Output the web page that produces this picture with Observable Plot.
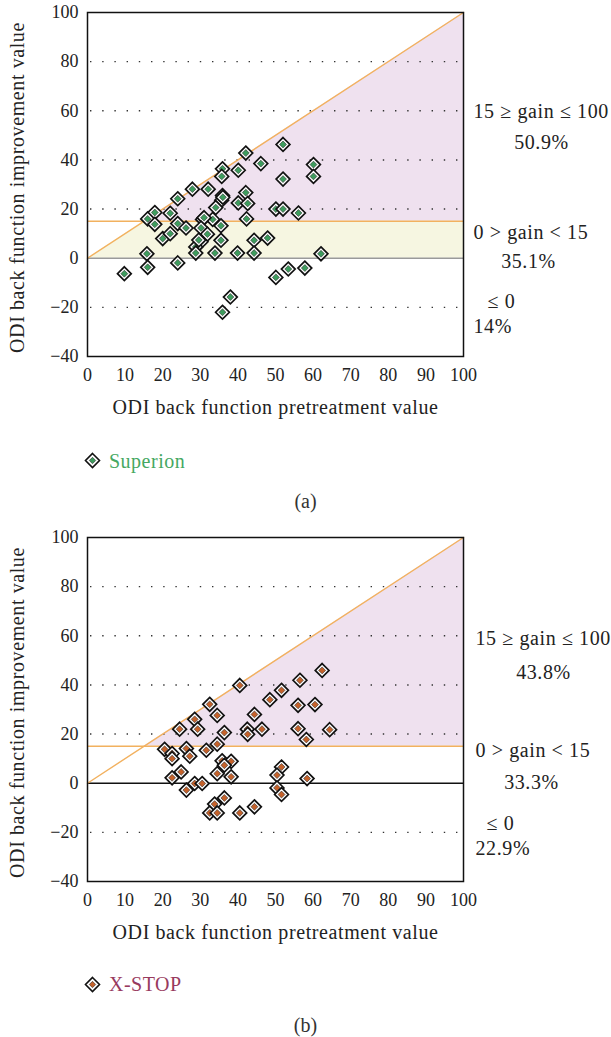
<!DOCTYPE html>
<html><head><meta charset="utf-8">
<script src="https://cdn.jsdelivr.net/npm/d3@7"></script>
<script src="https://cdn.jsdelivr.net/npm/@observablehq/plot@0.6"></script>
<style>
body{margin:0;background:#fff;font-family:"Liberation Serif",serif;}
#wrap{position:relative;width:611px;height:1037px;overflow:hidden;}
.abs{position:absolute;}
.legend{font-size:20px;line-height:24px;height:24px;display:flex;align-items:center;letter-spacing:0.5px;}
.legend svg{margin-right:8px;}
.cap{left:0;width:611px;text-align:center;font-size:20px;line-height:24px;color:#333;}
</style></head><body><div id="wrap"></div>
<script>
// ---- data ----
const groups = ["Superion", "X-STOP"];
const superionPre  = [42.1,46.1,35.9,40.1,35.7,27.9,32.1,24,35.9,35.7,42.1,40.1,42.6,34.1,17.9,22,16,30.6,33.3,42.3,52,50.1,52,52,60.1,60.1,56.1,31,36,
  17.9,24,26.2,30.2,35.5,20,22,31.9,30.2,28.8,28.8,35.5,33.9,39.9,44.3,44.3,47.9,15.8,62.1,29.6,
  16,24,9.8,38,35.9,50.1,53.4,57.8];
const superionGain = [42.8,38.5,36.4,35.8,33.3,28.1,28.1,24.2,25.5,23.6,26.7,22.5,22.3,20.6,18.6,18.3,16,15.8,15.8,16,46.3,20,20,32.2,38.1,33.3,18.4,16.5,24.8,
  13.8,14.1,12.3,12.3,13.2,8,10,9.8,6.7,4.6,2.1,7.3,2.1,2.1,7.3,2.1,8.2,1.8,1.8,7.4,
  -3.7,-1.9,-6.3,-15.8,-22,-7.8,-4.4,-4];
const xstopPre  = [40.5,32.5,34.5,44.4,48.5,51.6,28.5,24.5,29.3,36.4,42.5,42.6,46.4,34.5,62.4,56.5,56,60.5,56,58.2,64.4,
  20.5,22.5,22.5,26.3,27.2,31.6,24.9,22.5,35.8,38.2,36.4,34.5,38.2,51.6,50.4,58.4,
  28.5,30.5,26.3,36.4,33.8,32.5,34.5,40.5,44.4,50.4,51.6];
const xstopGain = [39.8,32.1,27.6,28,34,37.8,26,22,22,20.6,22,19.9,22,15.9,45.9,41.9,31.7,32,22.2,17.8,21.8,
  13.8,12.1,10,14.1,11,13.4,4.6,2.2,9.1,8.9,7.3,3.9,2.6,6.6,3.3,1.9,
  -0.1,-0.1,-2.8,-6,-8.5,-12.1,-12.1,-12.1,-9.6,-1.9,-4.6];
const rangeLabels = ["15 \u2265 gain \u2264 100", "0 > gain < 15", "\u2264 0"];
const superionPct = ["50.9%", "35.1%", "14%"];
const xstopPct    = ["43.8%", "33.3%", "22.9%"];
const xTicks = [0,10,20,30,40,50,60,70,80,90,100];
const yTicks = [-40,-20,0,20,40,60,80,100];
const gridTicks = [-20,20,40,60,80];
const gainCut = 15;
const xTitle = "ODI back function pretreatment value";
const yTitle = "ODI back function improvement value";
const panels = ["(a)", "(b)"];

// ---- style ----
const orange = "#f2b15f", purple = "#efe1ef", yellow = "#f6f6e1";
const dotColors = ["#3e9d5e", "#c5622b"];
const legendColors = ["#45a862", "#983a5e"];

function chart(o) {
  const data = o.pre.map((x, i) => ({x, y: o.gain[i]}));
  const lowBand = [0, gainCut, 100].map(x => ({x, lo: 0, hi: Math.min(x, gainCut)}));
  const highBand = [gainCut, 100].map(x => ({x, lo: gainCut, hi: x}));
  const diag = [0, 100].map(v => ({x: v, y: v}));
  const dots = data.flatMap(d => [
    Plot.dot([d], {x: "x", y: "y", symbol: "diamond2", r: 6.2, fill: "white", stroke: "#111", strokeWidth: 1.7}),
    Plot.dot([d], {x: "x", y: "y", symbol: "diamond2", r: 3.1, fill: o.color, stroke: "#2a2a2a", strokeWidth: 0.6})
  ]);
  const ann = (t, y, dx, anchor) => Plot.text([t], {x: 100, y, text: d => d, dx, textAnchor: anchor, lineAnchor: "middle", fontSize: 20, fill: "#222"});
  return Plot.plot({
    width: 611, height: o.height,
    marginLeft: 87, marginRight: 148, marginTop: o.mt, marginBottom: o.height - o.mt - 344,
    x: {domain: [0, 100], label: null},
    y: {domain: [-40, 100], label: null},
    style: {fontFamily: "'Liberation Serif', serif", fontSize: "18px", color: "#222", background: "white", overflow: "visible"},
    marks: [
      o.yellow ? Plot.areaY(lowBand, {x: "x", y1: "lo", y2: "hi", fill: yellow}) : null,
      Plot.areaY(highBand, {x: "x", y1: "lo", y2: "hi", fill: purple}),
      Plot.ruleY(gridTicks, {stroke: "#333", strokeWidth: 1.4, strokeDasharray: "1.4 10.8", strokeDashoffset: -3}),
      Plot.ruleY([0], {stroke: o.zero, strokeWidth: 1.6}),
      Plot.ruleY([gainCut], {stroke: orange, strokeWidth: 1.5}),
      Plot.line(diag, {x: "x", y: "y", stroke: orange, strokeWidth: 1.4}),
      Plot.frame({stroke: "#111", strokeWidth: 1.5}),
      Plot.axisX(xTicks, {tickSize: 0, tickPadding: 12, fontSize: 18}),
      Plot.axisY(yTicks, {tickSize: 0, tickPadding: 9, fontSize: 18}),
      ...dots,
      Plot.text([xTitle], {frameAnchor: "bottom", dy: 51, lineAnchor: "middle", textAnchor: "middle", text: d => d, fontSize: 20, fill: "#222"}),
      Plot.text([yTitle], {frameAnchor: "left", dx: -69.5, dy: 3, rotate: -90, lineAnchor: "middle", textAnchor: "middle", text: d => d, fontSize: 20, fill: "#222"}),
      ann(rangeLabels[0], o.a[0], o.a[1], "start"),
      ann(o.pct[0], o.a[2], o.a[3], "middle"),
      ann(rangeLabels[1], o.a[4], o.a[5], "start"),
      ann(o.pct[1], o.a[6], o.a[7], "middle"),
      ann(rangeLabels[2], o.a[8], o.a[9], "start"),
      ann(o.pct[2], o.a[10], o.a[11], "start")
    ]
  });
}

const wrap = document.getElementById("wrap");
function place(el, top) { el.classList.add("abs"); el.style.top = top + "px"; el.style.left = "0px"; wrap.appendChild(el); return el; }

const c1 = chart({pre: superionPre, gain: superionGain, color: dotColors[0], yellow: true, zero: "#9a9a9a",
  height: 430, mt: 12, pct: superionPct, a: [59.8, 10, 47.2, 78, 10.5, 10, -1.3, 65, -17.6, 24, -27.8, 10]});
const c2 = chart({pre: xstopPre, gain: xstopGain, color: dotColors[1], yellow: false, zero: "#111",
  height: 440, mt: 27, pct: xstopPct, a: [58.8, 12, 45.2, 80, 13.3, 12, 0.4, 68, -16.5, 23, -26.7, 12]});
place(c1, 0);
place(c2, 510);

// letter spacing on larger texts
d3.select(wrap).selectAll("g[aria-label='text'] text").style("letter-spacing", "0.6px");

function legend(i, top) {
  const div = document.createElement("div");
  div.className = "abs legend";
  div.style.top = top + "px"; div.style.left = "84px";
  const s = d3.create("svg").attr("width", 17).attr("height", 17);
  s.append("polygon").attr("points", "8.5,1.5 15.5,8.5 8.5,15.5 1.5,8.5").attr("fill", "white").attr("stroke", "#111").attr("stroke-width", 1.6);
  s.append("polygon").attr("points", "8.5,5.3 11.7,8.5 8.5,11.7 5.3,8.5").attr("fill", dotColors[i]).attr("stroke", "#2a2a2a").attr("stroke-width", 0.6);
  div.appendChild(s.node());
  const sp = document.createElement("span");
  sp.textContent = groups[i]; sp.style.color = legendColors[i];
  div.appendChild(sp);
  wrap.appendChild(div);
}
legend(0, 448.7);
legend(1, 972);

function caption(i, top) {
  const div = document.createElement("div");
  div.className = "abs cap"; div.style.top = top + "px";
  div.textContent = panels[i];
  wrap.appendChild(div);
}
caption(0, 489);
caption(1, 1013);
</script></body></html>
